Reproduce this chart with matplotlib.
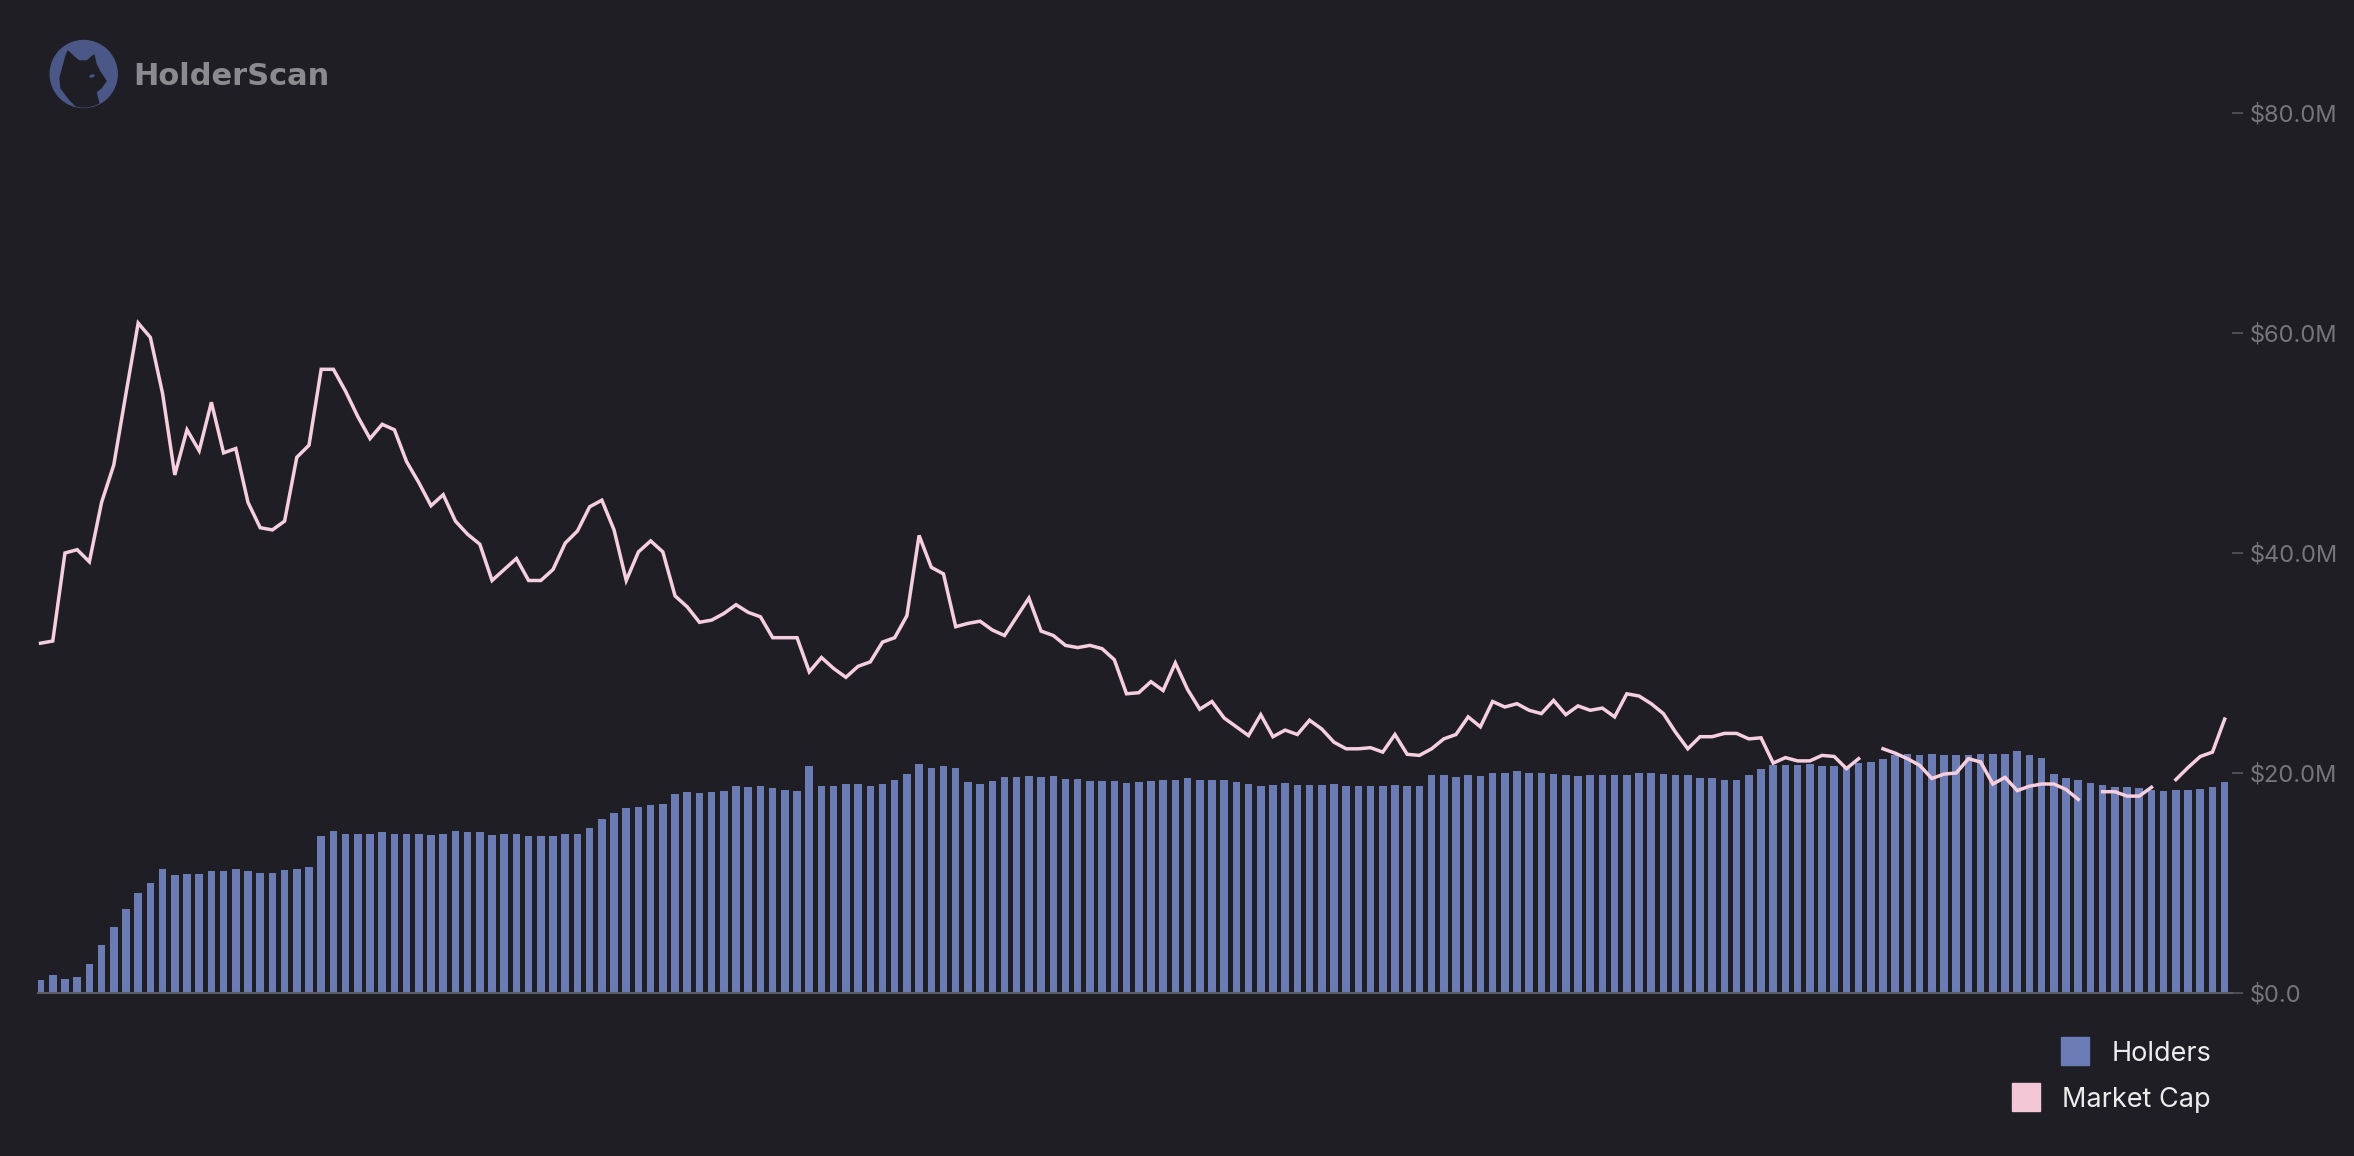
import matplotlib
matplotlib.use("Agg")
import matplotlib.pyplot as plt
import matplotlib.patches as mpatches
import numpy as np
from matplotlib.ticker import FuncFormatter

plt.rcParams["font.family"] = ["Inter", "DejaVu Sans"]

W, H = 2354, 1156
BG = "#1f1e24"
BAR = "#6b7cb4"
LINE = "#f6cfdf"
LEG_PINK = "#f3c7d6"
TICK = "#75757b"
BASE = "#5b5b63"

nan = np.nan

# holders per day (hidden left scale)
HOLDERS = [
    120, 160, 130, 150, 260, 440, 600, 760, 910, 1000,
    1130, 1070, 1085, 1085, 1105, 1105, 1130, 1110, 1090, 1090,
    1120, 1130, 1150, 1430, 1470, 1450, 1450, 1450, 1460, 1450,
    1450, 1450, 1440, 1450, 1470, 1460, 1460, 1440, 1450, 1450,
    1430, 1430, 1430, 1450, 1450, 1500, 1580, 1640, 1680, 1690,
    1710, 1720, 1810, 1830, 1820, 1830, 1840, 1880, 1870, 1880,
    1860, 1850, 1840, 2060, 1880, 1880, 1900, 1900, 1880, 1900,
    1940, 1990, 2080, 2050, 2060, 2050, 1920, 1900, 1930, 1960,
    1960, 1970, 1960, 1970, 1950, 1950, 1930, 1930, 1930, 1910,
    1915, 1925, 1940, 1940, 1955, 1940, 1940, 1935, 1920, 1900,
    1885, 1895, 1905, 1895, 1890, 1895, 1900, 1885, 1885, 1885,
    1885, 1890, 1885, 1885, 1980, 1980, 1960, 1980, 1970, 2000,
    2000, 2020, 2000, 2000, 1990, 1980, 1970, 1980, 1980, 1980,
    1980, 2000, 2000, 1990, 1980, 1980, 1955, 1955, 1940, 1940,
    1985, 2040, 2070, 2070, 2070, 2080, 2060, 2060, 2065, 2090,
    2100, 2125, 2165, 2175, 2165, 2175, 2165, 2165, 2165, 2175,
    2170, 2175, 2200, 2165, 2135, 1990, 1955, 1940, 1910, 1890,
    1875, 1870, 1860, 1850, 1840, 1845, 1845, 1855, 1875, 1920,
]

# market cap, $M (nan = no data)
MCAP = [
    31.8, 32.0, 40.0, 40.3, 39.2, 44.6, 48.0, 54.5, 60.9, 59.6,
    54.5, 47.1, 51.2, 49.3, 53.7, 49.1, 49.5, 44.6, 42.3, 42.1,
    42.9, 48.7, 49.8, 56.7, 56.7, 54.7, 52.4, 50.4, 51.7, 51.2,
    48.3, 46.4, 44.3, 45.3, 42.9, 41.7, 40.8, 37.5, 38.5, 39.5,
    37.5, 37.5, 38.5, 40.9, 42.0, 44.2, 44.8, 42.1, 37.5, 40.1,
    41.1, 40.1, 36.1, 35.1, 33.7, 33.9, 34.5, 35.3, 34.6, 34.2,
    32.3, 32.3, 32.3, 29.2, 30.5, 29.5, 28.7, 29.7, 30.1, 31.9,
    32.3, 34.3, 41.6, 38.7, 38.1, 33.3, 33.6, 33.8, 33.0, 32.5,
    34.2, 35.9, 32.9, 32.5, 31.6, 31.4, 31.6, 31.3, 30.3, 27.2,
    27.3, 28.3, 27.5, 30.0, 27.6, 25.8, 26.5, 25.0, 24.2, 23.4,
    25.3, 23.3, 23.9, 23.5, 24.8, 24.0, 22.8, 22.2, 22.2, 22.3,
    21.9, 23.5, 21.7, 21.6, 22.2, 23.1, 23.5, 25.1, 24.2, 26.5,
    26.0, 26.3, 25.7, 25.4, 26.6, 25.3, 26.1, 25.7, 25.9, 25.1,
    27.2, 27.0, 26.3, 25.4, 23.7, 22.2, 23.3, 23.3, 23.6, 23.6,
    23.1, 23.2, 20.9, 21.4, 21.1, 21.1, 21.6, 21.5, 20.4, 21.3,
    nan, 22.2, 21.8, 21.3, 20.7, 19.5, 19.9, 20.0, 21.3, 21.0,
    19.0, 19.6, 18.4, 18.8, 19.0, 19.0, 18.5, 17.6, nan, 18.3,
    18.3, 17.9, 17.9, 18.7, nan, 19.4, 20.5, 21.5, 21.9, 24.9,
]

MCAP_TICKS = [0, 20, 40, 60, 80]
LEGEND_LABELS = ["Holders", "Market Cap"]


def px(x, y):
    """pixel (from top-left) -> figure fraction"""
    return x / W, 1 - y / H


fig = plt.figure(figsize=(W / 100, H / 100), dpi=100, facecolor=BG)

# main plot area: x 38..2232 px, baseline at y=993 px, 11 px per $1M
left, bottom = px(38, 993)
ax = fig.add_axes([left, bottom, (2232 - 38) / W, 85 * 11 / H])
ax.set_facecolor("none")
days = np.arange(len(HOLDERS))
ax.bar(days, HOLDERS, width=0.62, color=BAR, zorder=2)
ax.set_xlim(-0.21, 179.6)
ax.set_ylim(0, 8500)
for s in ["top", "left", "right"]:
    ax.spines[s].set_visible(False)
ax.spines["bottom"].set_color(BASE)
ax.spines["bottom"].set_linewidth(1.5)
ax.set_xticks([])
ax.set_yticks([])

axm = ax.twinx()
axm.plot(days, MCAP, color=LINE, lw=2.5, solid_joinstyle="miter", zorder=3)
axm.set_ylim(0, 85)
axm.set_yticks(MCAP_TICKS)
axm.yaxis.set_major_formatter(
    FuncFormatter(lambda v, _: "$0.0" if v == 0 else f"${v:.1f}M"))
axm.tick_params(axis="y", colors=BASE, labelcolor=TICK, length=8, width=1.1,
                labelsize=17, pad=5)
for s in axm.spines.values():
    s.set_visible(False)

# logo
lx0, ly0 = px(40, 118)
lax = fig.add_axes([lx0, ly0, 90 / W, 88 / H])
lax.set_xlim(40, 130)
lax.set_ylim(118, 30)
lax.axis("off")
circ = mpatches.Circle((83.7, 74), 33.5, color="#4b5787")
lax.add_patch(circ)
cat = mpatches.Polygon(
    [(63, 67), (66, 56), (68, 51), (74, 57), (79, 61), (87, 61), (94, 55),
     (96, 64), (100, 72), (106, 81), (101, 88), (96, 92), (100, 108),
     (78, 108), (70, 100), (61, 88), (60, 78)],
    closed=True, color=BG)
lax.add_patch(cat)
cat.set_clip_path(circ)
lax.add_patch(mpatches.Ellipse((92, 76), 4, 1.6, angle=-20, color="#4b5787"))
fig.text(*px(133, 76.5), "HolderScan", color="#8a8a8f", fontsize=22,
         fontweight="bold", family="DejaVu Sans", ha="left", va="center")

# legend, right aligned at x=2211
legend_rows = [(LEGEND_LABELS[0], BAR, 1061), (LEGEND_LABELS[1], LEG_PINK, 1107)]
texts = []
for label, color, base_y in legend_rows:
    t = fig.text(*px(2211, base_y), label, color="#ececec", fontsize=19.5,
                 ha="right", va="baseline")
    texts.append((t, color, base_y))
fig.canvas.draw()
rend = fig.canvas.get_renderer()
for t, color, base_y in texts:
    bb = t.get_window_extent(rend)
    sq_right = bb.x0 - 22
    cy = base_y - 10
    fig.add_artist(mpatches.Rectangle(px(sq_right - 28, cy + 14), 28 / W, 28 / H,
                                      transform=fig.transFigure, color=color))

fig.savefig("out.png", dpi=100, facecolor=BG)
